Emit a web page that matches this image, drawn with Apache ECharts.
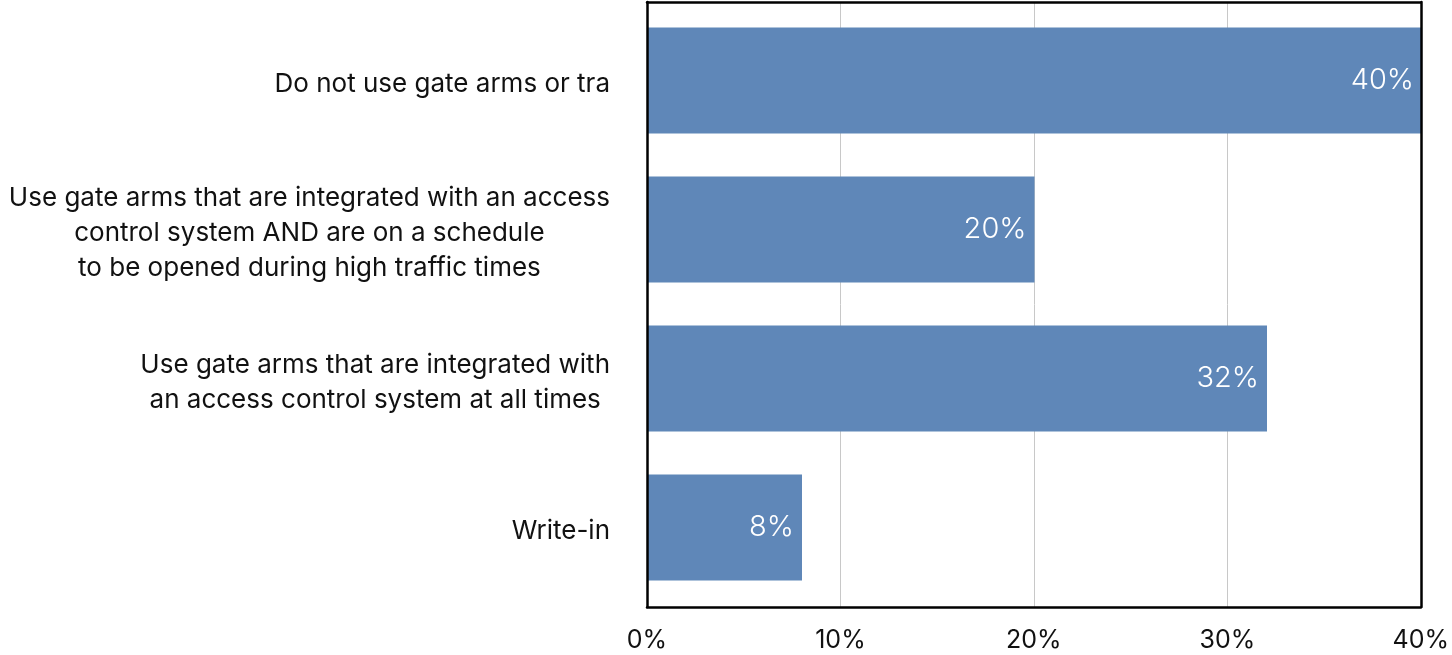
<!DOCTYPE html>
<html>
<head>
<meta charset="utf-8">
<script src="https://cdn.jsdelivr.net/npm/echarts@6/dist/echarts.min.js"></script>
<style>
html,body{margin:0;padding:0;background:#fff;}
#chart{width:1452px;height:655px;}
</style>
</head>
<body>
<div id="chart"></div>
<script>
const categories = [
  "Do not use gate arms or tra",
  "Use gate arms that are integrated with an access\ncontrol system AND are on a schedule\nto be opened during high traffic times",
  "Use gate arms that are integrated with\nan access control system at all times",
  "Write-in"
];
const values = [40, 20, 32, 8];
const tickLabels = ["0%", "10%", "20%", "30%", "40%"];

const FONT = "Inter";
const FRAME = { show: true, onZero: false, lineStyle: { color: '#000', width: 2.5 } };
const chart = echarts.init(document.getElementById('chart'));
chart.setOption({
  animation: false,
  grid: [
    { left: 647, right: 30, top: 2, bottom: 48 },
    { left: 647, right: 30, top: 6, bottom: 53 }
  ],
  xAxis: [{
    gridIndex: 0, type: 'value', min: 0, max: 40, interval: 10, position: 'bottom',
    axisLine: FRAME,
    axisTick: { show: false },
    splitLine: { show: true, lineStyle: { color: '#c8c8c8', width: 1 } },
    axisLabel: {
      margin: 21, color: '#111', fontSize: 25, fontFamily: FONT,
      formatter: v => tickLabels[Math.round(v / 10)]
    }
  }, {
    gridIndex: 0, type: 'value', min: 0, max: 40, interval: 10, position: 'top',
    axisLine: FRAME, axisTick: { show: false }, axisLabel: { show: false }, splitLine: { show: false }, z: 5
  }, {
    gridIndex: 1, type: 'value', min: 0, max: 40, interval: 10, show: false
  }],
  yAxis: [{
    gridIndex: 0, type: 'value', position: 'left', min: 0, max: 1,
    axisLine: FRAME, axisTick: { show: false }, axisLabel: { show: false }, splitLine: { show: false }, z: 5
  }, {
    gridIndex: 0, type: 'value', position: 'right', min: 0, max: 1,
    axisLine: FRAME, axisTick: { show: false }, axisLabel: { show: false }, splitLine: { show: false }, z: 5
  }, {
    gridIndex: 1, type: 'category', data: categories, inverse: true,
    axisLine: { show: false },
    axisTick: { show: false },
    axisLabel: {
      margin: 37, color: '#111', fontSize: 26, fontFamily: FONT, lineHeight: 35,
      align: 'right', padding: [8, 0, 0, 0],
      formatter: v => v.split('\n').map(s => '{c|' + s + '}').join('\n'),
      rich: { c: { align: 'center', fontSize: 26, fontFamily: FONT, color: '#111', lineHeight: 35 } }
    }
  }],
  series: [{
    type: 'bar', xAxisIndex: 2, yAxisIndex: 2, data: values, barCategoryGap: '29%',
    itemStyle: { color: '#5f87b8' },
    label: {
      show: true, position: 'insideRight', distance: 8,
      color: '#fff', fontSize: 29, fontFamily: FONT, fontWeight: 300,
      formatter: p => p.value + '%'
    }
  }]
});
</script>
</body>
</html>
